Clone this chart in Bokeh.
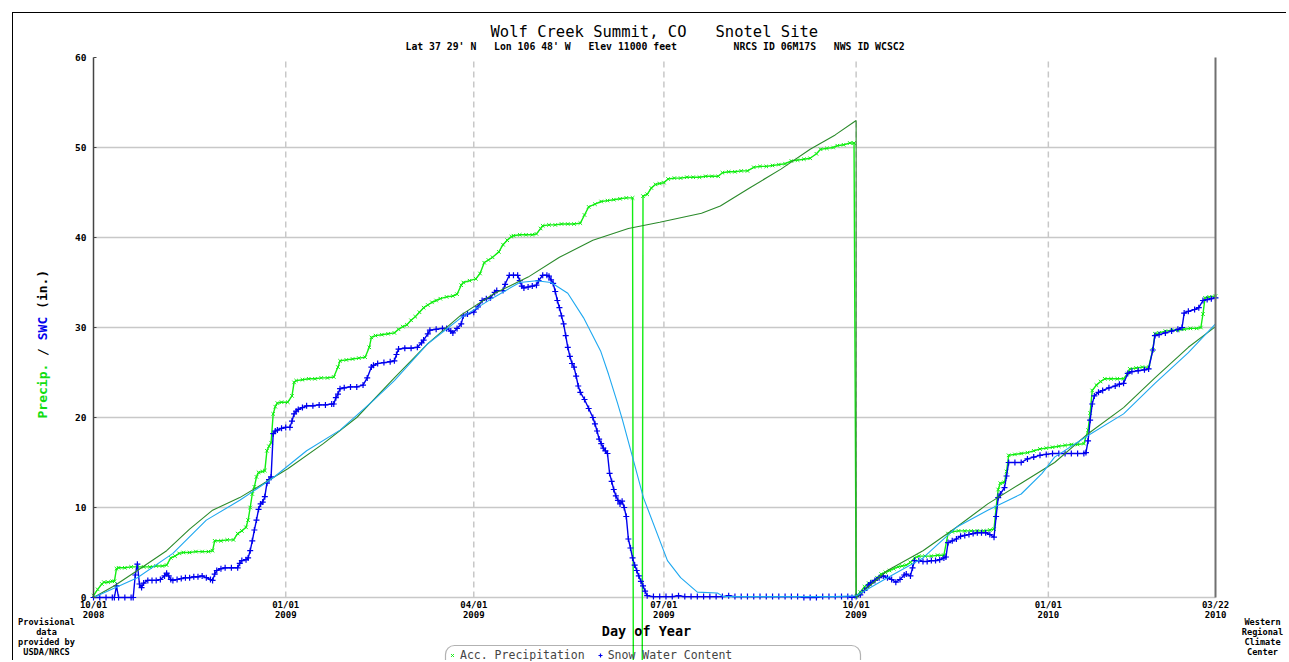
import math
from bokeh.plotting import figure
from bokeh.models import (BoxAnnotation, FixedTicker, Label, Legend, LegendItem, LinearAxis,
                          Range1d)
from bokeh.embed import file_html
from bokeh.resources import INLINE

# ---------------- data (days since 2008-10-01, inches) ----------------
tick_days = [0, 92, 182, 273, 365, 457, 537]
tick_labels = ["10/01\n2008", "01/01\n2009", "04/01\n2009", "07/01\n2009",
               "10/01\n2009", "01/01\n2010", "03/22\n2010"]
grid_days = [92, 182, 273, 365, 457]
y_ticks = [0, 10, 20, 30, 40, 50, 60]

# Accumulated precipitation (-99 = missing value)
precip_pts = [
    (0, 0.2), (2, 0.9), (4, 1.5), (5, 1.7), (7, 1.7), (9, 1.8), (10, 1.8), (11, 3.2), (12, 3.3),
    (15, 3.3), (18, 3.4), (21, 3.4), (24, 3.4), (27, 3.4), (30, 3.5), (33, 3.5), (35, 3.6),
    (37, 4.4), (39, 4.6), (41, 4.9), (43, 5.0), (46, 5.0), (49, 5.1), (52, 5.1), (55, 5.1),
    (57, 5.2), (58, 6.3), (61, 6.3), (64, 6.4), (67, 6.4), (69, 7.1), (71, 7.4), (73, 7.8),
    (74, 8.6), (75, 10.0), (76, 11.5), (77, 12.3), (78, 13.4), (79, 13.9), (81, 14.0),
    (82, 14.1), (83, 16.3), (84, 16.8), (85, 17.2), (86, 20.4), (87, 21.2), (88, 21.6),
    (90, 21.7), (93, 21.7), (95, 22.4), (96, 23.9), (97, 24.1), (100, 24.2), (103, 24.3),
    (106, 24.3), (109, 24.4), (112, 24.4), (115, 24.5), (117, 25.6), (118, 26.3), (121, 26.4),
    (124, 26.5), (127, 26.6), (130, 26.7), (132, 27.8), (133, 28.9), (135, 29.1), (138, 29.2),
    (141, 29.3), (144, 29.4), (146, 29.8), (148, 30.1), (150, 30.3), (152, 30.8), (154, 31.2),
    (156, 31.7), (158, 32.2), (160, 32.5), (162, 32.8), (164, 33.0), (166, 33.2), (169, 33.4),
    (172, 33.5), (174, 33.7), (176, 34.7), (177, 35.0), (180, 35.2), (183, 35.4), (185, 36.0),
    (187, 37.2), (189, 37.5), (191, 37.8), (194, 38.4), (196, 39.2), (198, 39.7), (200, 40.1),
    (201, 40.2), (204, 40.3), (207, 40.3), (210, 40.3), (212, 40.4), (214, 41.0), (215, 41.3),
    (218, 41.4), (221, 41.4), (224, 41.5), (227, 41.5), (230, 41.5), (233, 41.6), (235, 42.5),
    (237, 43.4), (240, 43.7), (243, 44.0), (246, 44.1), (249, 44.2), (252, 44.3), (255, 44.4),
    (258, 44.4), (259, -99.0), (262, -99.0), (263, 44.6), (265, 44.8), (267, 45.5), (269, 45.9),
    (271, 46.0), (273, 46.1), (275, 46.5), (278, 46.6), (281, 46.6), (284, 46.7), (287, 46.7),
    (290, 46.7), (293, 46.8), (296, 46.8), (299, 46.8), (301, 47.2), (304, 47.3), (307, 47.3),
    (310, 47.4), (313, 47.4), (316, 47.8), (319, 47.9), (322, 47.9), (325, 48.0), (328, 48.1),
    (331, 48.2), (334, 48.5), (337, 48.6), (340, 48.7), (343, 48.8), (346, 49.3), (348, 49.8),
    (351, 49.9), (354, 50.0), (356, 50.2), (359, 50.3), (362, 50.5), (364, 50.5),
    (365, 0.1), (367, 0.6), (369, 1.2), (371, 1.6), (373, 1.8), (375, 2.2), (377, 2.6),
    (379, 2.8), (381, 3.0), (383, 3.2), (385, 3.4), (387, 3.5), (389, 3.6), (391, 3.9),
    (393, 4.4), (395, 4.6), (398, 4.6), (401, 4.6), (404, 4.7), (407, 4.7), (409, 7.1),
    (411, 7.3), (414, 7.4), (417, 7.4), (420, 7.4), (423, 7.4), (426, 7.4), (429, 7.5),
    (431, 7.6), (432, 10.0), (433, 12.0), (434, 12.7), (436, 12.8), (437, 14.0), (438, 15.8),
    (441, 15.9), (444, 16.0), (447, 16.1), (450, 16.3), (453, 16.5), (456, 16.6), (459, 16.7),
    (462, 16.8), (465, 16.9), (468, 17.0), (471, 17.0), (474, 17.1), (476, 18.6), (477, 20.5),
    (478, 23.0), (480, 23.6), (482, 24.0), (484, 24.3), (487, 24.3), (490, 24.3), (493, 24.3),
    (495, 24.9), (496, 25.4), (499, 25.5), (502, 25.6), (505, 25.6), (507, 27.5), (508, 29.3),
    (510, 29.4), (513, 29.6), (516, 29.7), (519, 29.7), (522, 29.8), (525, 29.9), (528, 29.9),
    (530, 30.0), (531, 31.5), (532, 33.3), (534, 33.4), (537, 33.5),
]

# Snow water content
swe_pts = [
    (0, 0.0), (3, 0.0), (6, 0.0), (9, 0.0), (10, 0.0), (11, 1.3), (12, 0.0), (15, 0.0),
    (18, 0.0), (19, 0.0), (20, 2.5), (21, 3.7), (22, 1.5), (23, 1.1), (24, 1.6), (26, 1.9),
    (28, 1.9), (30, 1.9), (32, 2.0), (34, 2.4), (35, 2.7), (36, 2.4), (37, 2.0), (38, 1.9),
    (40, 2.0), (42, 2.1), (44, 2.2), (46, 2.2), (48, 2.3), (50, 2.3), (52, 2.4), (54, 2.2),
    (56, 2.0), (57, 1.9), (58, 2.6), (59, 3.0), (61, 3.2), (63, 3.3), (66, 3.3), (69, 3.3),
    (70, 3.8), (71, 4.1), (73, 4.2), (74, 4.4), (75, 5.2), (76, 6.3), (77, 7.5), (78, 8.6),
    (79, 9.8), (80, 10.4), (81, 10.6), (82, 11.2), (83, 12.7), (84, 13.1), (85, 13.4),
    (86, 18.2), (87, 18.5), (88, 18.6), (90, 18.8), (92, 18.9), (94, 18.9), (95, 19.6),
    (96, 20.4), (97, 20.7), (98, 20.9), (100, 21.1), (102, 21.3), (105, 21.3), (108, 21.4),
    (111, 21.4), (114, 21.5), (115, 21.5), (116, 22.2), (117, 22.6), (118, 23.2), (120, 23.3),
    (123, 23.4), (126, 23.4), (129, 23.6), (131, 24.4), (133, 25.6), (134, 25.8), (136, 26.0),
    (139, 26.1), (142, 26.2), (144, 26.3), (145, 27.0), (146, 27.6), (149, 27.7), (152, 27.7),
    (155, 27.8), (157, 28.3), (158, 28.6), (160, 29.3), (161, 29.7), (164, 29.8), (167, 29.9),
    (169, 29.9), (171, 29.6), (172, 29.4), (174, 29.9), (176, 30.4), (177, 31.3), (179, 31.5),
    (182, 31.7), (184, 32.3), (186, 33.0), (188, 33.2), (190, 33.3), (192, 33.9), (193, 34.1),
    (196, 34.1), (197, 34.8), (199, 35.8), (201, 35.8), (203, 35.8), (204, 35.2), (205, 34.6),
    (206, 34.4), (208, 34.5), (210, 34.6), (212, 34.7), (213, 35.2), (215, 35.8), (217, 35.8),
    (218, 35.7), (219, 35.3), (220, 34.9), (221, 34.0), (222, 33.0), (223, 32.2), (224, 31.3),
    (225, 30.4), (226, 29.1), (227, 27.8), (228, 26.8), (229, 26.0), (230, 25.6), (231, 24.6),
    (232, 23.5), (233, 22.8), (235, 22.0), (237, 21.0), (239, 20.0), (240, 19.3), (241, 18.5),
    (242, 17.6), (243, 17.1), (244, 16.6), (245, 16.3), (246, 16.0), (247, 13.8), (248, 12.9),
    (249, 12.0), (250, 11.3), (251, 10.8), (252, 10.4), (253, 10.7), (254, 10.0), (255, 9.0),
    (256, 6.5), (257, 5.5), (258, 4.4), (259, 3.6), (260, 3.0), (261, 2.4), (262, 1.8),
    (263, 1.3), (264, 0.7), (265, 0.2), (268, 0.1), (271, 0.1), (274, 0.1), (277, 0.1),
    (280, 0.2), (283, 0.1), (286, 0.1), (289, 0.1), (292, 0.1), (295, 0.1), (298, 0.1),
    (301, 0.1), (304, 0.2), (307, 0.1), (310, 0.1), (313, 0.1), (316, 0.1), (319, 0.1),
    (322, 0.1), (325, 0.1), (328, 0.1), (331, 0.1), (334, 0.1), (337, 0.1), (340, 0.0),
    (343, 0.0), (346, 0.0), (349, 0.1), (352, 0.1), (355, 0.1), (358, 0.1), (361, 0.1),
    (363, 0.0), (365, 0.1), (367, 0.3), (369, 0.8), (371, 1.4), (372, 1.6), (374, 1.9),
    (376, 2.2), (378, 2.4), (380, 2.2), (382, 2.0), (384, 1.7), (386, 2.0), (388, 2.5),
    (389, 2.6), (391, 2.4), (392, 3.3), (393, 4.1), (395, 4.1), (397, 4.0), (399, 4.0),
    (401, 4.1), (403, 4.1), (405, 4.2), (407, 4.4), (408, 4.5), (409, 6.1), (411, 6.3),
    (413, 6.5), (415, 6.8), (417, 6.9), (419, 7.0), (421, 7.1), (423, 7.2), (425, 7.2),
    (427, 7.2), (429, 7.0), (431, 6.7), (432, 9.0), (433, 11.1), (434, 11.5), (436, 12.2),
    (437, 13.5), (438, 15.0), (441, 15.0), (444, 15.0), (447, 15.4), (450, 15.6), (453, 15.8),
    (456, 15.9), (459, 16.0), (462, 16.0), (465, 16.0), (468, 16.0), (471, 16.0), (474, 16.0),
    (475, 16.1), (476, 17.4), (477, 19.7), (478, 21.5), (479, 22.4), (481, 22.8), (483, 23.0),
    (486, 23.3), (489, 23.5), (491, 23.7), (493, 23.8), (495, 24.9), (497, 25.1), (500, 25.2),
    (503, 25.3), (505, 25.4), (507, 27.5), (508, 29.1), (510, 29.2), (513, 29.4), (516, 29.6),
    (519, 29.8), (521, 30.0), (522, 31.6), (524, 31.8), (527, 32.0), (529, 32.2), (531, 33.0),
    (533, 33.1), (535, 33.2), (537, 33.3),
]

# Average accumulated precipitation
avg_precip_pts = [
    (0, 0.0), (10, 1.3), (21, 3.0), (35, 5.2), (46, 7.6), (57, 9.7), (70, 11.1), (78, 12.2),
    (93, 14.3), (110, 17.1), (126, 20.0), (144, 24.4), (160, 28.2), (176, 31.4), (192, 33.8),
    (208, 35.6), (223, 37.8), (239, 39.7), (256, 41.0), (271, 41.7), (291, 42.7), (300, 43.5),
    (314, 45.5), (329, 47.6), (343, 49.8), (355, 51.4), (365, 53.0),
    (365, 0.0), (380, 3.0), (397, 5.2), (413, 7.8), (428, 10.4), (444, 12.7), (460, 15.0),
    (476, 18.2), (493, 21.1), (508, 24.4), (524, 27.8), (537, 30.1),
]

# Average snow water content
avg_swe_pts = [
    (0, 0.0), (21, 2.2), (38, 4.9), (54, 8.6), (70, 10.8), (86, 13.3), (102, 16.3), (118, 18.6),
    (134, 21.9), (144, 24.1), (160, 28.2), (176, 31.1), (192, 33.4), (204, 35.0), (212, 35.2),
    (219, 35.0), (227, 33.8), (234.5, 31.1), (242.7, 27.4), (246.5, 24.8), (250.8, 21.6),
    (253.2, 19.7), (258, 15.6), (263.2, 11.1), (274.7, 4.1), (281, 2.2), (289, 0.6),
    (298.6, 0.5), (301.5, 0.1), (330, 0.1), (355, 0.1), (365, 0.2),
    (380, 2.2), (397, 4.4), (413, 7.8), (428, 9.7), (444, 11.5), (454, 13.8), (460, 15.6),
    (476, 18.0), (493, 20.4), (508, 23.8), (524, 27.2), (537, 30.4),
]

precip_day, precip_in = [list(t) for t in zip(*precip_pts)]
swe_day, swe_in = [list(t) for t in zip(*swe_pts)]
avgp_day, avgp_in = [list(t) for t in zip(*avg_precip_pts)]
avgs_day, avgs_in = [list(t) for t in zip(*avg_swe_pts)]

# ---------------- layout (page pixels) ----------------
X0, X1, Y0, Y1 = 0, 537, 0, 60          # plotted data area
FL, FT, FW, FH = 93, 57, 1122, 540      # where that area sits on the page
CL, CT, CW, CH = 13, 13, 1274, 648      # canvas position / size on the page
SX = (X1 - X0) / FW
SY = (Y1 - Y0) / FH


def dx(px):
    return X0 + (px - FL) * SX


def dy(py):
    return Y1 - (py - FT) * SY


MONO = "DejaVu Sans Mono"

p = figure(width=CW, height=CH, output_backend="svg", toolbar_location=None,
           x_range=Range1d(dx(CL), dx(CL + CW)), y_range=Range1d(dy(CT + CH), dy(CT)),
           min_border=0, x_axis_location=None, y_axis_location=None,
           background_fill_color="white", border_fill_color="white")
p.styles = {"margin-left": f"{CL - 1}px", "margin-top": f"{CT - 1}px",
            "border-left": "1px solid black", "border-top": "1px solid black"}
p.outline_line_color = None
p.title.visible = False
p.grid.visible = False

# grid lines, limited to the plot area
hgrid = y_ticks[:-1]
p.segment(x0=X0, y0=hgrid, x1=X1, y1=hgrid, line_color="#c8c8c8", line_width=1.5)
p.segment(x0=grid_days, y0=Y0, x1=grid_days, y1=Y1, line_color="#c8c8c8",
          line_width=1.5, line_dash="6 4")

# x axis (fixed near y = 0)
xa = LinearAxis(fixed_location=Y0 + 7 * SY, bounds=(X0, X1), ticker=FixedTicker(ticks=tick_days))
xa.major_label_overrides = {d: l for d, l in zip(tick_days, tick_labels)}
xa.axis_line_color = None
xa.major_tick_line_color = None
xa.minor_tick_line_color = None
xa.major_label_text_font = MONO
xa.major_label_text_font_style = "bold"
xa.major_label_text_font_size = "9px"
xa.major_label_text_line_height = 1.0
xa.major_label_text_color = "black"
xa.major_label_standoff = 3
p.add_layout(xa, "below")

# y axis (fixed at x = 0)
ya = LinearAxis(fixed_location=X0, bounds=(Y0, Y1), ticker=FixedTicker(ticks=y_ticks))
ya.axis_line_color = "#444444"
ya.axis_line_width = 1.5
ya.major_tick_line_color = "#444444"
ya.major_tick_in = 3
ya.major_tick_out = 0
ya.minor_tick_line_color = None
ya.major_label_text_font = MONO
ya.major_label_text_font_style = "bold"
ya.major_label_text_font_size = "9.5px"
ya.major_label_text_color = "black"
ya.major_label_standoff = 7
p.add_layout(ya, "left")

# right frame line (fixed at x = end)
ra = LinearAxis(fixed_location=X1, bounds=(Y0, Y1), ticker=FixedTicker(ticks=[]),
                axis_line_color="#707070", axis_line_width=2,
                major_tick_line_color=None, minor_tick_line_color=None,
                major_label_text_font_size="0px")
p.add_layout(ra, "right")

# series
p.line(precip_day, precip_in, color="#11ee11", line_width=1.4)
pr_sc = p.scatter(precip_day, precip_in, marker="x", size=5, line_width=1, color="#11ee11")
p.line(swe_day, swe_in, color="#0000ee", line_width=1.4)
sw_sc = p.scatter(swe_day, swe_in, marker="cross", size=6, line_width=1.2, color="#0000ee")
p.line(avgp_day, avgp_in, color="#2a8a2a", line_width=1.1)
p.line(avgs_day, avgs_in, color="#1ea8f0", line_width=1.1)


def lab(text, px, py, size, color="black", bold=False, align="left", baseline="middle",
        angle=0.0, font=MONO, line_height=1.2):
    p.add_layout(Label(x=dx(px), y=dy(py), text=text, text_font=font,
                       text_font_size=f"{size}px", text_color=color,
                       text_font_style="bold" if bold else "normal",
                       text_align=align, text_baseline=baseline, angle=angle,
                       text_line_height=line_height))


# titles
lab("Wolf Creek Summit, CO", 490, 31, 15.5)
lab("Snotel Site", 715, 31, 15.5)
scw = 9.8 * 0.602
sub = [("Lat 37 29' N", 405), ("Lon 106 48' W", 405 + 15 * scw),
       ("Elev 11000 feet", 405 + 31 * scw), ("NRCS ID 06M17S", 733),
       ("NWS ID WCSC2", 733 + 17 * scw)]
for t, x in sub:
    lab(t, x, 46, 9.8, bold=True)

# y axis label (multi coloured)
cw = 13 * 0.602
y_start = 418
for t, idx, col in [("Precip.", 0, "#11dd11"), ("/", 8, "black"), ("SWC", 10, "#0000ee"),
                    ("(in.)", 14, "black")]:
    lab(t, 42, y_start - idx * cw, 13, color=col, bold=True, angle=math.pi / 2)

# x axis label
lab("Day of Year", 646, 630, 13.5, bold=True, align="center")

# side notes
lab("Provisional\ndata\nprovided by\nUSDA/NRCS", 46, 616, 8.6, bold=True, align="center",
    baseline="top", line_height=1.0)
lab("Western\nRegional\nClimate\nCenter", 1262, 616, 8.6, bold=True, align="center",
    baseline="top", line_height=1.0)

# legend frame (rounded, open at the bottom edge of the page) and legend
p.add_layout(BoxAnnotation(left=dx(445), right=dx(860), top=dy(645), bottom=dy(675),
                           fill_alpha=0, line_color="black", line_width=1.2,
                           border_radius=9))
legend = Legend(items=[LegendItem(label="Acc. Precipitation", renderers=[pr_sc]),
                       LegendItem(label="Snow Water Content", renderers=[sw_sc])],
                orientation="horizontal", location=(447 - CL, -1),
                label_text_font=MONO, label_text_font_size="11.5px",
                glyph_width=10, glyph_height=10, label_standoff=3, spacing=10,
                padding=2, margin=0, border_line_color=None,
                background_fill_alpha=0.0, label_height=12)
p.add_layout(legend, "center")

open("out.html", "w").write(file_html(p, INLINE))
